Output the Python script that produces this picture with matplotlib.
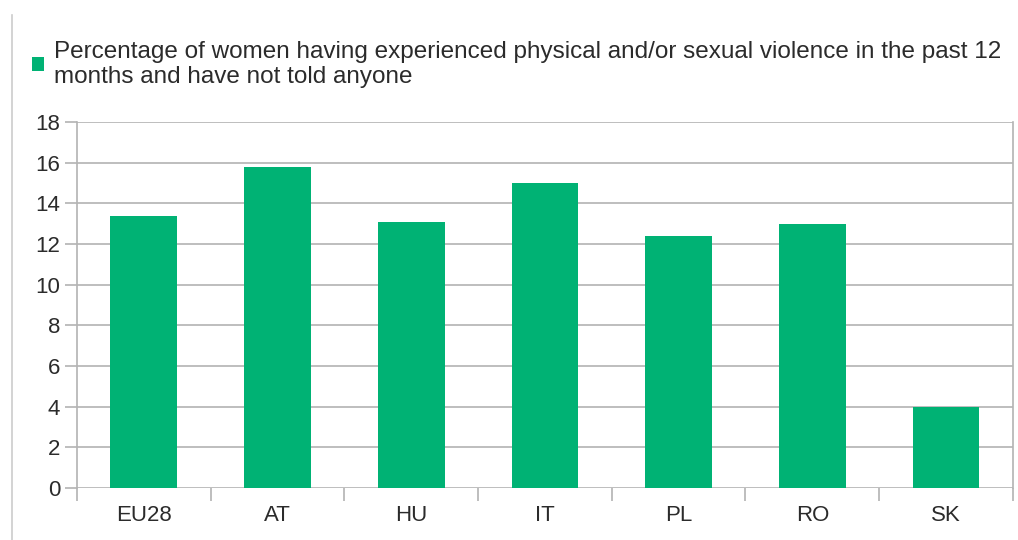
import matplotlib.pyplot as plt
import numpy as np
from matplotlib.patches import Patch
from matplotlib.lines import Line2D

categories = ['EU28', 'AT', 'HU', 'IT', 'PL', 'RO', 'SK']
values = [13.4, 15.8, 13.1, 15.0, 12.4, 13.0, 4.0]
series_label = ('Percentage of women having experienced physical and/or sexual violence in the past 12\n'
                'months and have not told anyone')

BAR_COLOR = '#00b274'
GRID_COLOR = '#b3b3b3'
TEXT_COLOR = '#2b2b2b'

plt.rcParams['font.family'] = ['Liberation Sans', 'DejaVu Sans']

fig = plt.figure(figsize=(10.18, 5.4), dpi=100)
ax = fig.add_axes([0.0756, 0.0963, 0.9194, 0.6777])

x = np.arange(len(categories))
ax.bar(x, values, width=0.5, color=BAR_COLOR, zorder=3)

ax.set_xlim(-0.5, len(categories) - 0.5)
ax.set_ylim(0, 18)
ax.set_yticks(np.arange(0, 19, 2))
ax.set_xticks(x)
ax.set_xticklabels(categories)
ax.set_xticks(np.arange(-0.5, len(categories), 1), minor=True)

ax.grid(axis='y', color=GRID_COLOR, linewidth=1.2, zorder=0)
for s in ['top', 'bottom']:
    ax.spines[s].set_visible(False)
ax.spines['left'].set_color(GRID_COLOR)
ax.spines['right'].set_color(GRID_COLOR)
ax.spines['left'].set_linewidth(1.2)
ax.spines['right'].set_linewidth(1.2)

ax.tick_params(axis='x', which='major', length=0, pad=12, labelsize=16, labelcolor=TEXT_COLOR)
ax.tick_params(axis='x', which='minor', length=9, color=GRID_COLOR, width=1.2)
ax.tick_params(axis='y', length=9, color=GRID_COLOR, width=1.2, labelsize=16,
               labelcolor=TEXT_COLOR, pad=3)

handles = [Patch(facecolor=BAR_COLOR, edgecolor='none')]
fig.legend(handles, [series_label], loc='upper left', bbox_to_anchor=(0.022, 0.943),
           frameon=False, fontsize=17.5, labelcolor=TEXT_COLOR, handlelength=0.5,
           handleheight=0.5, handletextpad=0.4, borderaxespad=0, labelspacing=0.2)

# page border line on the left
fig.add_artist(Line2D([0.012, 0.012], [0, 0.972], transform=fig.transFigure,
                      color='#cccccc', linewidth=1.2))

fig.savefig('out.png', dpi=100)
